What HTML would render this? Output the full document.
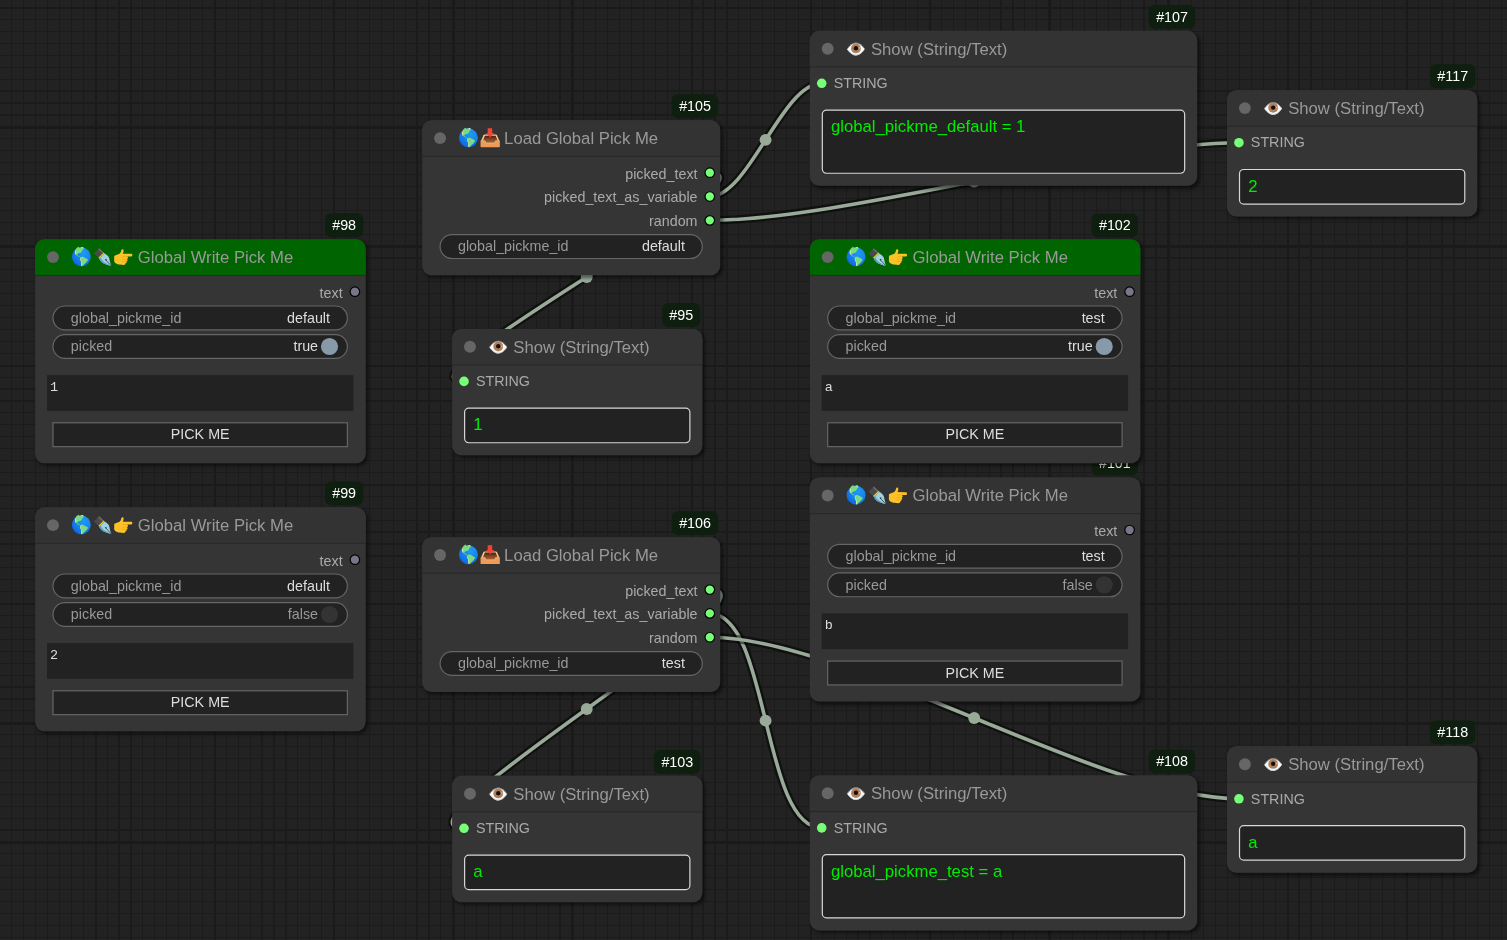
<!DOCTYPE html>
<html lang="en"><head><meta charset="utf-8"><title>ComfyUI</title>
<style>
html,body{margin:0;padding:0;background:#222222;overflow:hidden}
body{width:1507px;height:940px;position:relative;font-family:"Liberation Sans",sans-serif}
#graph{position:absolute;left:0;top:0;width:1300px;height:800px;transform:scale(1.1919);transform-origin:0 0;will-change:transform}
.grid,.links{position:absolute;left:0;top:0;overflow:visible}
.links path{fill:none;stroke-linejoin:round}
.lb{stroke:rgba(0,0,0,.5);stroke-width:7px}
.lc{stroke:#99aa99;stroke-width:3px}
.ld{fill:#99aa99}
.node{position:absolute;left:0;top:0;border-radius:8px;box-shadow:2px 2px 3px rgba(0,0,0,.5)}
.nbg{position:absolute;left:0;top:0;overflow:visible}
.in{position:absolute;left:0;top:0;right:0;bottom:0}
.tdot{position:absolute;left:10px;top:10px;width:10px;height:10px;border-radius:50%;background:#666666}
.tt{position:absolute;left:30px;top:0;height:30px;line-height:30px;font-size:14px;color:#999999;white-space:nowrap}
.e{display:inline-block;width:17.43px;height:17.43px;vertical-align:-3.9px;overflow:visible;position:relative;left:.45px}
.body{position:absolute;left:0;top:30px;right:0;bottom:0}
.badge{position:absolute;right:2px;top:-22px;transform:translate(.3px,.3px);height:20px;line-height:20px;padding:0 6px;border-radius:5px;background:#0f1f0f;color:#fff;font-size:12px;white-space:nowrap}
.slot{position:absolute;left:0;right:0;height:20px;line-height:20px;font-size:12px;color:#aaaaaa;white-space:nowrap}
.slot span{position:absolute;top:0}
.slot.out span{right:19px;top:.7px}
.slot.in span{left:20px;top:.4px}
.ta{position:absolute;left:10px;right:10px;top:84px;height:30px;box-sizing:border-box;background:#222222;color:#dddddd;font-family:"Liberation Mono",monospace;font-size:11.3px;line-height:14px;padding:3.2px 2.5px}
.box{position:absolute;left:10px;right:10px;top:36px;bottom:10px;box-sizing:border-box;border:1px solid #d8d8d8;border-radius:4px;background:#222222;color:#00ec00;font-size:14px;line-height:16px;padding:5.3px 6.8px;white-space:nowrap;overflow:hidden}
.pin{position:absolute;top:5px;overflow:visible}
.slot.out .pin{right:4px}
.slot.in .pin{left:5px}
.wbg{position:absolute;left:0;top:0;overflow:visible}
.w{position:absolute;left:15px;height:20px;font-size:12px;line-height:20px;white-space:nowrap}
.wl{position:absolute;left:15px;top:0;color:#999999}
.wv{position:absolute;right:14.6px;top:0;color:#dddddd}
.wv.tg{right:24.6px}
.wv.off{color:#999999}
.btn{position:absolute;left:15px;height:20px;color:#dddddd;font-size:12px;line-height:20px;text-align:center}
.btn span{position:relative}

</style></head><body>
<svg width="0" height="0" style="position:absolute"><defs>
<radialGradient id="gg" cx="0.62" cy="0.3" r="0.8"><stop offset="0" stop-color="#1f9af2"/><stop offset="0.5" stop-color="#1583ee"/><stop offset="1" stop-color="#0b5fe0"/></radialGradient>
<linearGradient id="gi" x1="0" y1="0" x2="0" y2="1"><stop offset="0" stop-color="#45200f"/><stop offset="0.45" stop-color="#7d4424"/><stop offset="1" stop-color="#b06a3c"/></linearGradient>
<symbol id="e-globe" viewBox="0 0 128 128">
<circle cx="64.5" cy="64.5" r="58.5" fill="url(#gg)"/>
<path d="M49 9C57 6 66 5 73 6c5 2 8 5 7 9-1 4-6 5-8 8-3 5-4 10-8 13-4 4-10 4-15 7-4 2-9 3-10 6 0 3 3 5 5 8 4 3 10 4 14 9-6 0-12-2-16-6-5-3-9-6-11-11-3-5-6-10-6-16 0-6 2-11 5-16 4-6 9-12 19-17z" fill="#79da83"/>
<path d="M30 24c-4 6-6 12-5 18 1 5 3 9 7 12-1-6-1-12 1-17 1-5 1-9-3-13z" fill="#dfe28f"/>
<path d="M66 6c4-1 8 0 11 2-2 3-6 3-9 2-2-1-3-3-2-4z" fill="#f4f8fa"/>
<path d="M59 66c6-3 13-3 19-1 6 3 11 7 17 10 5 2 10 4 10 8-1 6-5 10-9 15-4 5-9 8-13 12-5 4-8 9-13 12-4 0-6-2-6-5 1-6 1-13 0-19-2-6-6-11-7-18 0-5 0-10 2-14z" fill="#79da83"/>
<path d="M59 66c-3 5-3 11-1 17 2 6 6 11 6 18 1 6 0 12 0 18 1 2 2 3 4 3 1-6 2-12 1-18-1-7-5-13-7-19-2-6-4-13-3-19z" fill="#e9e9a6"/>
</symbol>
<symbol id="e-pen" viewBox="0 0 128 128">
<path d="M9 43L42 11l28 27-33 32z" fill="#4a4a4a"/>
<path d="M36 17l6-6 28 27-6 6z" fill="#6b6b6b"/>
<path d="M37 70l33-32 6 6-33 32z" fill="#f6c81e"/>
<path d="M43 76l33-32c10 6 18 12 23 19 6 8 7 18 9 28 2 9 5 19 10 30-12-4-24-6-36-11-10-4-20-8-27-16-6-6-10-12-12-18z" fill="#9fd3e3"/>
<path d="M43 76c2 6 6 12 12 18 7 8 17 12 27 16 12 5 24 7 36 11-14-8-30-14-44-24-10-7-18-15-22-28z" fill="#5f9db3"/>
<path d="M84 85l33 35" stroke="#1f2a30" stroke-width="4.5" fill="none" stroke-linecap="round"/>
<path d="M77 80l12-2-3 11z" fill="#1f2a30"/>
</symbol>
<symbol id="e-hand" viewBox="0 0 128 128">
<path d="M10 64c0-5 3-7 9-9l24-10c7-4 9-12 11-21 2-9 14-8 14 2 0 8-2 14-5 19l50 1c12 0 12 17 0 17H89c8 2 8 14 0 16 6 4 4 13-4 14 4 6 0 12-7 12 2 6-3 9-10 9l-24-2C28 110 10 102 10 90z" fill="#fdc228"/>
<path d="M64 63h26M62 79h26M60 93h24" stroke="#eaa413" stroke-width="3.5" stroke-linecap="round" fill="none"/>
</symbol>
<symbol id="e-inbox" viewBox="0 0 128 128">
<path d="M32 44h70c3 0 5 2 6 4l15 34H10l15-34c1-2 4-4 7-4z" fill="#f6cb8d"/>
<path d="M34 51h66l13 31v15H21V82z" fill="url(#gi)"/>
<path d="M7 82h27l7 14h52l7-14h26v36a4 4 0 0 1-4 4H11a4 4 0 0 1-4-4z" fill="#f09a58"/>
<path d="M9 82h25l7 14h52l7-14h24" fill="none" stroke="#f8cd85" stroke-width="3.5" stroke-linejoin="round"/>
<path d="M51 6h28v29h12L66 62 41 35h10z" fill="#f44336"/>
</symbol>
<symbol id="e-eye" viewBox="0 0 128 128">
<path d="M9 69c19-26 37-39 55-39s36 13 55 38c-19 27-37 40-55 40S28 96 9 69z" fill="#fdfdfd"/>
<path d="M14 74c16 20 33 31 50 31s34-11 50-31" fill="none" stroke="#b9cbd4" stroke-width="5"/>
<circle cx="64" cy="64" r="30.5" fill="#b5835f"/>
<circle cx="64" cy="64" r="22" fill="none" stroke="#a8744f" stroke-width="3"/>
<circle cx="64" cy="63" r="13.5" fill="#111111"/>
<circle cx="86" cy="62" r="4.5" fill="#ecc4ae"/>
<path d="M11 67c18-25 35-36 53-36s35 11 53 35" fill="none" stroke="#7c7c7c" stroke-width="6"/>
</symbol>

</defs></svg>
<div id="graph">
<svg class="grid" width="1266.37" height="790.66" shape-rendering="crispEdges"><path fill="#1b1b1b" d="M-10.62 0h1v790.66h-1zM-0.62 0h1v790.66h-1zM9.38 0h1v790.66h-1zM19.38 0h1v790.66h-1zM29.38 0h1v790.66h-1zM39.38 0h1v790.66h-1zM49.38 0h1v790.66h-1zM59.38 0h1v790.66h-1zM69.38 0h1v790.66h-1zM89.38 0h1v790.66h-1zM99.38 0h1v790.66h-1zM109.38 0h1v790.66h-1zM119.38 0h1v790.66h-1zM129.38 0h1v790.66h-1zM139.38 0h1v790.66h-1zM149.38 0h1v790.66h-1zM159.38 0h1v790.66h-1zM169.38 0h1v790.66h-1zM189.38 0h1v790.66h-1zM199.38 0h1v790.66h-1zM209.38 0h1v790.66h-1zM219.38 0h1v790.66h-1zM229.38 0h1v790.66h-1zM239.38 0h1v790.66h-1zM249.38 0h1v790.66h-1zM259.38 0h1v790.66h-1zM269.38 0h1v790.66h-1zM289.38 0h1v790.66h-1zM299.38 0h1v790.66h-1zM309.38 0h1v790.66h-1zM319.38 0h1v790.66h-1zM329.38 0h1v790.66h-1zM339.38 0h1v790.66h-1zM349.38 0h1v790.66h-1zM359.38 0h1v790.66h-1zM369.38 0h1v790.66h-1zM389.38 0h1v790.66h-1zM399.38 0h1v790.66h-1zM409.38 0h1v790.66h-1zM419.38 0h1v790.66h-1zM429.38 0h1v790.66h-1zM439.38 0h1v790.66h-1zM449.38 0h1v790.66h-1zM459.38 0h1v790.66h-1zM469.38 0h1v790.66h-1zM489.38 0h1v790.66h-1zM499.38 0h1v790.66h-1zM509.38 0h1v790.66h-1zM519.38 0h1v790.66h-1zM529.38 0h1v790.66h-1zM539.38 0h1v790.66h-1zM549.38 0h1v790.66h-1zM559.38 0h1v790.66h-1zM569.38 0h1v790.66h-1zM589.38 0h1v790.66h-1zM599.38 0h1v790.66h-1zM609.38 0h1v790.66h-1zM619.38 0h1v790.66h-1zM629.38 0h1v790.66h-1zM639.38 0h1v790.66h-1zM649.38 0h1v790.66h-1zM659.38 0h1v790.66h-1zM669.38 0h1v790.66h-1zM689.38 0h1v790.66h-1zM699.38 0h1v790.66h-1zM709.38 0h1v790.66h-1zM719.38 0h1v790.66h-1zM729.38 0h1v790.66h-1zM739.38 0h1v790.66h-1zM749.38 0h1v790.66h-1zM759.38 0h1v790.66h-1zM769.38 0h1v790.66h-1zM789.38 0h1v790.66h-1zM799.38 0h1v790.66h-1zM809.38 0h1v790.66h-1zM819.38 0h1v790.66h-1zM829.38 0h1v790.66h-1zM839.38 0h1v790.66h-1zM849.38 0h1v790.66h-1zM859.38 0h1v790.66h-1zM869.38 0h1v790.66h-1zM889.38 0h1v790.66h-1zM899.38 0h1v790.66h-1zM909.38 0h1v790.66h-1zM919.38 0h1v790.66h-1zM929.38 0h1v790.66h-1zM939.38 0h1v790.66h-1zM949.38 0h1v790.66h-1zM959.38 0h1v790.66h-1zM969.38 0h1v790.66h-1zM989.38 0h1v790.66h-1zM999.38 0h1v790.66h-1zM1009.38 0h1v790.66h-1zM1019.38 0h1v790.66h-1zM1029.38 0h1v790.66h-1zM1039.38 0h1v790.66h-1zM1049.38 0h1v790.66h-1zM1059.38 0h1v790.66h-1zM1069.38 0h1v790.66h-1zM1089.38 0h1v790.66h-1zM1099.38 0h1v790.66h-1zM1109.38 0h1v790.66h-1zM1119.38 0h1v790.66h-1zM1129.38 0h1v790.66h-1zM1139.38 0h1v790.66h-1zM1149.38 0h1v790.66h-1zM1159.38 0h1v790.66h-1zM1169.38 0h1v790.66h-1zM1189.38 0h1v790.66h-1zM1199.38 0h1v790.66h-1zM1209.38 0h1v790.66h-1zM1219.38 0h1v790.66h-1zM1229.38 0h1v790.66h-1zM1239.38 0h1v790.66h-1zM1249.38 0h1v790.66h-1zM1259.38 0h1v790.66h-1zM0 -84.09h1266.37v1h-1266.37zM0 -74.09h1266.37v1h-1266.37zM0 -64.09h1266.37v1h-1266.37zM0 -54.09h1266.37v1h-1266.37zM0 -44.09h1266.37v1h-1266.37zM0 -34.09h1266.37v1h-1266.37zM0 -24.09h1266.37v1h-1266.37zM0 -14.09h1266.37v1h-1266.37zM0 -4.09h1266.37v1h-1266.37zM0 15.91h1266.37v1h-1266.37zM0 25.91h1266.37v1h-1266.37zM0 35.91h1266.37v1h-1266.37zM0 45.91h1266.37v1h-1266.37zM0 55.91h1266.37v1h-1266.37zM0 65.91h1266.37v1h-1266.37zM0 75.91h1266.37v1h-1266.37zM0 85.91h1266.37v1h-1266.37zM0 95.91h1266.37v1h-1266.37zM0 115.91h1266.37v1h-1266.37zM0 125.91h1266.37v1h-1266.37zM0 135.91h1266.37v1h-1266.37zM0 145.91h1266.37v1h-1266.37zM0 155.91h1266.37v1h-1266.37zM0 165.91h1266.37v1h-1266.37zM0 175.91h1266.37v1h-1266.37zM0 185.91h1266.37v1h-1266.37zM0 195.91h1266.37v1h-1266.37zM0 215.91h1266.37v1h-1266.37zM0 225.91h1266.37v1h-1266.37zM0 235.91h1266.37v1h-1266.37zM0 245.91h1266.37v1h-1266.37zM0 255.91h1266.37v1h-1266.37zM0 265.91h1266.37v1h-1266.37zM0 275.91h1266.37v1h-1266.37zM0 285.91h1266.37v1h-1266.37zM0 295.91h1266.37v1h-1266.37zM0 315.91h1266.37v1h-1266.37zM0 325.91h1266.37v1h-1266.37zM0 335.91h1266.37v1h-1266.37zM0 345.91h1266.37v1h-1266.37zM0 355.91h1266.37v1h-1266.37zM0 365.91h1266.37v1h-1266.37zM0 375.91h1266.37v1h-1266.37zM0 385.91h1266.37v1h-1266.37zM0 395.91h1266.37v1h-1266.37zM0 415.91h1266.37v1h-1266.37zM0 425.91h1266.37v1h-1266.37zM0 435.91h1266.37v1h-1266.37zM0 445.91h1266.37v1h-1266.37zM0 455.91h1266.37v1h-1266.37zM0 465.91h1266.37v1h-1266.37zM0 475.91h1266.37v1h-1266.37zM0 485.91h1266.37v1h-1266.37zM0 495.91h1266.37v1h-1266.37zM0 515.91h1266.37v1h-1266.37zM0 525.91h1266.37v1h-1266.37zM0 535.91h1266.37v1h-1266.37zM0 545.91h1266.37v1h-1266.37zM0 555.91h1266.37v1h-1266.37zM0 565.91h1266.37v1h-1266.37zM0 575.91h1266.37v1h-1266.37zM0 585.91h1266.37v1h-1266.37zM0 595.91h1266.37v1h-1266.37zM0 615.91h1266.37v1h-1266.37zM0 625.91h1266.37v1h-1266.37zM0 635.91h1266.37v1h-1266.37zM0 645.91h1266.37v1h-1266.37zM0 655.91h1266.37v1h-1266.37zM0 665.91h1266.37v1h-1266.37zM0 675.91h1266.37v1h-1266.37zM0 685.91h1266.37v1h-1266.37zM0 695.91h1266.37v1h-1266.37zM0 715.91h1266.37v1h-1266.37zM0 725.91h1266.37v1h-1266.37zM0 735.91h1266.37v1h-1266.37zM0 745.91h1266.37v1h-1266.37zM0 755.91h1266.37v1h-1266.37zM0 765.91h1266.37v1h-1266.37zM0 775.91h1266.37v1h-1266.37zM0 785.91h1266.37v1h-1266.37z"/><path fill="#1a1a1a" d="M-20.62 0h2v790.66h-2zM79.38 0h2v790.66h-2zM179.38 0h2v790.66h-2zM279.38 0h2v790.66h-2zM379.38 0h2v790.66h-2zM479.38 0h2v790.66h-2zM579.38 0h2v790.66h-2zM679.38 0h2v790.66h-2zM779.38 0h2v790.66h-2zM879.38 0h2v790.66h-2zM979.38 0h2v790.66h-2zM1079.38 0h2v790.66h-2zM1179.38 0h2v790.66h-2zM0 -94.09h1266.37v2h-1266.37zM0 5.91h1266.37v2h-1266.37zM0 105.91h1266.37v2h-1266.37zM0 205.91h1266.37v2h-1266.37zM0 305.91h1266.37v2h-1266.37zM0 405.91h1266.37v2h-1266.37zM0 505.91h1266.37v2h-1266.37zM0 605.91h1266.37v2h-1266.37zM0 705.91h1266.37v2h-1266.37z"/></svg>
<svg class="links" width="1300" height="800">
<path d="M595.22 144.88C662.8 144.88 321.74 319.98 389.31 319.98" class="lb"/>
<path d="M595.22 144.88C662.8 144.88 321.74 319.98 389.31 319.98" class="lc"/>
<circle cx="492.27" cy="232.43" r="5" class="ld"/>
<path d="M595.22 164.88C628.67 164.88 655.97 69.88 689.42 69.88" class="lb"/>
<path d="M595.22 164.88C628.67 164.88 655.97 69.88 689.42 69.88" class="lc"/>
<circle cx="642.32" cy="117.38" r="5" class="ld"/>
<path d="M595.22 184.88C707.47 184.88 927.2 119.71 1039.45 119.71" class="lb"/>
<path d="M595.22 184.88C707.47 184.88 927.2 119.71 1039.45 119.71" class="lc"/>
<circle cx="817.34" cy="152.3" r="5" class="ld"/>
<path d="M595.22 494.66C667.03 494.66 317.5 694.93 389.31 694.93" class="lb"/>
<path d="M595.22 494.66C667.03 494.66 317.5 694.93 389.31 694.93" class="lc"/>
<circle cx="492.27" cy="594.8" r="5" class="ld"/>
<path d="M595.22 514.66C646 514.66 638.65 694.59 689.42 694.59" class="lb"/>
<path d="M595.22 514.66C646 514.66 638.65 694.59 689.42 694.59" class="lc"/>
<circle cx="642.32" cy="604.63" r="5" class="ld"/>
<path d="M595.22 534.66C711.33 534.66 923.34 670.18 1039.45 670.18" class="lb"/>
<path d="M595.22 534.66C711.33 534.66 923.34 670.18 1039.45 670.18" class="lc"/>
<circle cx="817.34" cy="602.42" r="5" class="ld"/>
</svg>
<div class="node write" id="n98" style="transform:translate(29.45px,200.72px);width:277px;height:188px">
<div class="badge">#98</div>
<svg class="nbg" width="277.4" height="188"><path fill="#353535" d="M0 8a8 8 0 0 1 8-8H269.4a8 8 0 0 1 8 8V180a8 8 0 0 1-8 8H8a8 8 0 0 1-8-8z"/><path fill="#006400" d="M0 30V8a8 8 0 0 1 8-8H269.4a8 8 0 0 1 8 8V30z"/><rect x="0" y="29.75" width="277.4" height="1" fill="#000" fill-opacity=".22"/></svg>
<div class="in">
<i class="tdot"></i><span class="tt"><svg class="e"><use href="#e-globe"/></svg><svg class="e"><use href="#e-pen"/></svg><svg class="e"><use href="#e-hand"/></svg> Global Write Pick Me</span>
<div class="body">
<div class="slot out" style="top:4px"><span>text</span><svg class="pin" width="10" height="10"><circle cx="5.3" cy="5" r="4" fill="#777788" stroke="#000" stroke-width="1"/></svg></div>
<div class="w" style="top:26px;width:247px"><svg class="wbg" width="247" height="20"><rect x="0" y="0" width="247" height="20" rx="10" ry="10" fill="#222222" stroke="#666666" stroke-width="1"/></svg><span class="wl">global_pickme_id</span><span class="wv">default</span></div>
<div class="w" style="top:50px;width:247px"><svg class="wbg" width="247" height="20"><rect x="0" y="0" width="247" height="20" rx="10" ry="10" fill="#222222" stroke="#666666" stroke-width="1"/><circle cx="232" cy="10" r="7.2" fill="#8899aa"/></svg><span class="wl">picked</span><span class="wv tg on">true</span></div>
<div class="ta">1</div>
<div class="btn" style="top:124px;width:247px"><svg class="wbg" width="247" height="20"><rect x="0" y="0" width="247" height="20" fill="#222222" stroke="#666666" stroke-width="1"/></svg><span>PICK ME</span></div>
</div></div></div>
<div class="node write" id="n99" style="transform:translate(29.45px,425.58px);width:277px;height:188px">
<div class="badge">#99</div>
<svg class="nbg" width="277.4" height="188"><path fill="#353535" d="M0 8a8 8 0 0 1 8-8H269.4a8 8 0 0 1 8 8V180a8 8 0 0 1-8 8H8a8 8 0 0 1-8-8z"/><path fill="#333333" d="M0 30V8a8 8 0 0 1 8-8H269.4a8 8 0 0 1 8 8V30z"/><rect x="0" y="29.75" width="277.4" height="1" fill="#000" fill-opacity=".22"/></svg>
<div class="in">
<i class="tdot"></i><span class="tt"><svg class="e"><use href="#e-globe"/></svg><svg class="e"><use href="#e-pen"/></svg><svg class="e"><use href="#e-hand"/></svg> Global Write Pick Me</span>
<div class="body">
<div class="slot out" style="top:4px"><span>text</span><svg class="pin" width="10" height="10"><circle cx="5.3" cy="5" r="4" fill="#777788" stroke="#000" stroke-width="1"/></svg></div>
<div class="w" style="top:26px;width:247px"><svg class="wbg" width="247" height="20"><rect x="0" y="0" width="247" height="20" rx="10" ry="10" fill="#222222" stroke="#666666" stroke-width="1"/></svg><span class="wl">global_pickme_id</span><span class="wv">default</span></div>
<div class="w" style="top:50px;width:247px"><svg class="wbg" width="247" height="20"><rect x="0" y="0" width="247" height="20" rx="10" ry="10" fill="#222222" stroke="#666666" stroke-width="1"/><circle cx="232" cy="10" r="7.2" fill="#333333"/></svg><span class="wl">picked</span><span class="wv tg off">false</span></div>
<div class="ta">2</div>
<div class="btn" style="top:124px;width:247px"><svg class="wbg" width="247" height="20"><rect x="0" y="0" width="247" height="20" fill="#222222" stroke="#666666" stroke-width="1"/></svg><span>PICK ME</span></div>
</div></div></div>
<div class="node load" id="n105" style="transform:translate(354.22px,100.88px);width:250px;height:130px">
<div class="badge">#105</div>
<svg class="nbg" width="250" height="130"><path fill="#353535" d="M0 8a8 8 0 0 1 8-8H242a8 8 0 0 1 8 8V122a8 8 0 0 1-8 8H8a8 8 0 0 1-8-8z"/><path fill="#333333" d="M0 30V8a8 8 0 0 1 8-8H242a8 8 0 0 1 8 8V30z"/><rect x="0" y="29.75" width="250" height="1" fill="#000" fill-opacity=".22"/></svg>
<div class="in">
<i class="tdot"></i><span class="tt"><svg class="e"><use href="#e-globe"/></svg><svg class="e"><use href="#e-inbox"/></svg> Load Global Pick Me</span>
<div class="body">
<div class="slot out" style="top:4px"><span>picked_text</span><svg class="pin" width="10" height="10"><circle cx="5.3" cy="5" r="4" fill="#77ff77" stroke="#000" stroke-width="1"/></svg></div>
<div class="slot out" style="top:24px"><span>picked_text_as_variable</span><svg class="pin" width="10" height="10"><circle cx="5.3" cy="5" r="4" fill="#77ff77" stroke="#000" stroke-width="1"/></svg></div>
<div class="slot out" style="top:44px"><span>random</span><svg class="pin" width="10" height="10"><circle cx="5.3" cy="5" r="4" fill="#77ff77" stroke="#000" stroke-width="1"/></svg></div>
<div class="w" style="top:66px;width:220px"><svg class="wbg" width="220" height="20"><rect x="0" y="0" width="220" height="20" rx="10" ry="10" fill="#222222" stroke="#666666" stroke-width="1"/></svg><span class="wl">global_pickme_id</span><span class="wv">default</span></div>
</div></div></div>
<div class="node load" id="n106" style="transform:translate(354.22px,450.66px);width:250px;height:130px">
<div class="badge">#106</div>
<svg class="nbg" width="250" height="130"><path fill="#353535" d="M0 8a8 8 0 0 1 8-8H242a8 8 0 0 1 8 8V122a8 8 0 0 1-8 8H8a8 8 0 0 1-8-8z"/><path fill="#333333" d="M0 30V8a8 8 0 0 1 8-8H242a8 8 0 0 1 8 8V30z"/><rect x="0" y="29.75" width="250" height="1" fill="#000" fill-opacity=".22"/></svg>
<div class="in">
<i class="tdot"></i><span class="tt"><svg class="e"><use href="#e-globe"/></svg><svg class="e"><use href="#e-inbox"/></svg> Load Global Pick Me</span>
<div class="body">
<div class="slot out" style="top:4px"><span>picked_text</span><svg class="pin" width="10" height="10"><circle cx="5.3" cy="5" r="4" fill="#77ff77" stroke="#000" stroke-width="1"/></svg></div>
<div class="slot out" style="top:24px"><span>picked_text_as_variable</span><svg class="pin" width="10" height="10"><circle cx="5.3" cy="5" r="4" fill="#77ff77" stroke="#000" stroke-width="1"/></svg></div>
<div class="slot out" style="top:44px"><span>random</span><svg class="pin" width="10" height="10"><circle cx="5.3" cy="5" r="4" fill="#77ff77" stroke="#000" stroke-width="1"/></svg></div>
<div class="w" style="top:66px;width:220px"><svg class="wbg" width="220" height="20"><rect x="0" y="0" width="220" height="20" rx="10" ry="10" fill="#222222" stroke="#666666" stroke-width="1"/></svg><span class="wl">global_pickme_id</span><span class="wv">test</span></div>
</div></div></div>
<div class="node show" id="n95" style="transform:translate(379.31px,275.98px);width:210px;height:106px">
<div class="badge">#95</div>
<svg class="nbg" width="210" height="106"><path fill="#353535" d="M0 8a8 8 0 0 1 8-8H202a8 8 0 0 1 8 8V98a8 8 0 0 1-8 8H8a8 8 0 0 1-8-8z"/><path fill="#333333" d="M0 30V8a8 8 0 0 1 8-8H202a8 8 0 0 1 8 8V30z"/><rect x="0" y="29.75" width="210" height="1" fill="#000" fill-opacity=".22"/></svg>
<div class="in">
<i class="tdot"></i><span class="tt"><svg class="e"><use href="#e-eye"/></svg> Show (String/Text)</span>
<div class="body">
<div class="slot in" style="top:4px"><svg class="pin" width="10" height="10"><circle cx="5" cy="5" r="4" fill="#77ff77"/></svg><span>STRING</span></div>
<div class="box">1</div>
</div></div></div>
<div class="node show" id="n103" style="transform:translate(379.31px,650.93px);width:210px;height:106px">
<div class="badge">#103</div>
<svg class="nbg" width="210" height="106"><path fill="#353535" d="M0 8a8 8 0 0 1 8-8H202a8 8 0 0 1 8 8V98a8 8 0 0 1-8 8H8a8 8 0 0 1-8-8z"/><path fill="#333333" d="M0 30V8a8 8 0 0 1 8-8H202a8 8 0 0 1 8 8V30z"/><rect x="0" y="29.75" width="210" height="1" fill="#000" fill-opacity=".22"/></svg>
<div class="in">
<i class="tdot"></i><span class="tt"><svg class="e"><use href="#e-eye"/></svg> Show (String/Text)</span>
<div class="body">
<div class="slot in" style="top:4px"><svg class="pin" width="10" height="10"><circle cx="5" cy="5" r="4" fill="#77ff77"/></svg><span>STRING</span></div>
<div class="box">a</div>
</div></div></div>
<div class="node show" id="n107" style="transform:translate(679.42px,25.88px);width:325px;height:130px">
<div class="badge">#107</div>
<svg class="nbg" width="325" height="130"><path fill="#353535" d="M0 8a8 8 0 0 1 8-8H317a8 8 0 0 1 8 8V122a8 8 0 0 1-8 8H8a8 8 0 0 1-8-8z"/><path fill="#333333" d="M0 30V8a8 8 0 0 1 8-8H317a8 8 0 0 1 8 8V30z"/><rect x="0" y="29.75" width="325" height="1" fill="#000" fill-opacity=".22"/></svg>
<div class="in">
<i class="tdot"></i><span class="tt"><svg class="e"><use href="#e-eye"/></svg> Show (String/Text)</span>
<div class="body">
<div class="slot in" style="top:4px"><svg class="pin" width="10" height="10"><circle cx="5" cy="5" r="4" fill="#77ff77"/></svg><span>STRING</span></div>
<div class="box">global_pickme_default = 1</div>
</div></div></div>
<div class="node show" id="n108" style="transform:translate(679.42px,650.59px);width:325px;height:130px">
<div class="badge">#108</div>
<svg class="nbg" width="325" height="130"><path fill="#353535" d="M0 8a8 8 0 0 1 8-8H317a8 8 0 0 1 8 8V122a8 8 0 0 1-8 8H8a8 8 0 0 1-8-8z"/><path fill="#333333" d="M0 30V8a8 8 0 0 1 8-8H317a8 8 0 0 1 8 8V30z"/><rect x="0" y="29.75" width="325" height="1" fill="#000" fill-opacity=".22"/></svg>
<div class="in">
<i class="tdot"></i><span class="tt"><svg class="e"><use href="#e-eye"/></svg> Show (String/Text)</span>
<div class="body">
<div class="slot in" style="top:4px"><svg class="pin" width="10" height="10"><circle cx="5" cy="5" r="4" fill="#77ff77"/></svg><span>STRING</span></div>
<div class="box">global_pickme_test = a</div>
</div></div></div>
<div class="node show" id="n117" style="transform:translate(1029.45px,75.71px);width:210px;height:106px">
<div class="badge">#117</div>
<svg class="nbg" width="210" height="106"><path fill="#353535" d="M0 8a8 8 0 0 1 8-8H202a8 8 0 0 1 8 8V98a8 8 0 0 1-8 8H8a8 8 0 0 1-8-8z"/><path fill="#333333" d="M0 30V8a8 8 0 0 1 8-8H202a8 8 0 0 1 8 8V30z"/><rect x="0" y="29.75" width="210" height="1" fill="#000" fill-opacity=".22"/></svg>
<div class="in">
<i class="tdot"></i><span class="tt"><svg class="e"><use href="#e-eye"/></svg> Show (String/Text)</span>
<div class="body">
<div class="slot in" style="top:4px"><svg class="pin" width="10" height="10"><circle cx="5" cy="5" r="4" fill="#77ff77"/></svg><span>STRING</span></div>
<div class="box">2</div>
</div></div></div>
<div class="node show" id="n118" style="transform:translate(1029.45px,626.18px);width:210px;height:106px">
<div class="badge">#118</div>
<svg class="nbg" width="210" height="106"><path fill="#353535" d="M0 8a8 8 0 0 1 8-8H202a8 8 0 0 1 8 8V98a8 8 0 0 1-8 8H8a8 8 0 0 1-8-8z"/><path fill="#333333" d="M0 30V8a8 8 0 0 1 8-8H202a8 8 0 0 1 8 8V30z"/><rect x="0" y="29.75" width="210" height="1" fill="#000" fill-opacity=".22"/></svg>
<div class="in">
<i class="tdot"></i><span class="tt"><svg class="e"><use href="#e-eye"/></svg> Show (String/Text)</span>
<div class="body">
<div class="slot in" style="top:4px"><svg class="pin" width="10" height="10"><circle cx="5" cy="5" r="4" fill="#77ff77"/></svg><span>STRING</span></div>
<div class="box">a</div>
</div></div></div>
<div class="node write" id="n101" style="transform:translate(679.42px,400.66px);width:277px;height:188px">
<div class="badge">#101</div>
<svg class="nbg" width="277.4" height="188"><path fill="#353535" d="M0 8a8 8 0 0 1 8-8H269.4a8 8 0 0 1 8 8V180a8 8 0 0 1-8 8H8a8 8 0 0 1-8-8z"/><path fill="#333333" d="M0 30V8a8 8 0 0 1 8-8H269.4a8 8 0 0 1 8 8V30z"/><rect x="0" y="29.75" width="277.4" height="1" fill="#000" fill-opacity=".22"/></svg>
<div class="in">
<i class="tdot"></i><span class="tt"><svg class="e"><use href="#e-globe"/></svg><svg class="e"><use href="#e-pen"/></svg><svg class="e"><use href="#e-hand"/></svg> Global Write Pick Me</span>
<div class="body">
<div class="slot out" style="top:4px"><span>text</span><svg class="pin" width="10" height="10"><circle cx="5.3" cy="5" r="4" fill="#777788" stroke="#000" stroke-width="1"/></svg></div>
<div class="w" style="top:26px;width:247px"><svg class="wbg" width="247" height="20"><rect x="0" y="0" width="247" height="20" rx="10" ry="10" fill="#222222" stroke="#666666" stroke-width="1"/></svg><span class="wl">global_pickme_id</span><span class="wv">test</span></div>
<div class="w" style="top:50px;width:247px"><svg class="wbg" width="247" height="20"><rect x="0" y="0" width="247" height="20" rx="10" ry="10" fill="#222222" stroke="#666666" stroke-width="1"/><circle cx="232" cy="10" r="7.2" fill="#333333"/></svg><span class="wl">picked</span><span class="wv tg off">false</span></div>
<div class="ta">b</div>
<div class="btn" style="top:124px;width:247px"><svg class="wbg" width="247" height="20"><rect x="0" y="0" width="247" height="20" fill="#222222" stroke="#666666" stroke-width="1"/></svg><span>PICK ME</span></div>
</div></div></div>
<div class="node write" id="n102" style="transform:translate(679.42px,200.72px);width:277px;height:188px">
<div class="badge">#102</div>
<svg class="nbg" width="277.4" height="188"><path fill="#353535" d="M0 8a8 8 0 0 1 8-8H269.4a8 8 0 0 1 8 8V180a8 8 0 0 1-8 8H8a8 8 0 0 1-8-8z"/><path fill="#006400" d="M0 30V8a8 8 0 0 1 8-8H269.4a8 8 0 0 1 8 8V30z"/><rect x="0" y="29.75" width="277.4" height="1" fill="#000" fill-opacity=".22"/></svg>
<div class="in">
<i class="tdot"></i><span class="tt"><svg class="e"><use href="#e-globe"/></svg><svg class="e"><use href="#e-pen"/></svg><svg class="e"><use href="#e-hand"/></svg> Global Write Pick Me</span>
<div class="body">
<div class="slot out" style="top:4px"><span>text</span><svg class="pin" width="10" height="10"><circle cx="5.3" cy="5" r="4" fill="#777788" stroke="#000" stroke-width="1"/></svg></div>
<div class="w" style="top:26px;width:247px"><svg class="wbg" width="247" height="20"><rect x="0" y="0" width="247" height="20" rx="10" ry="10" fill="#222222" stroke="#666666" stroke-width="1"/></svg><span class="wl">global_pickme_id</span><span class="wv">test</span></div>
<div class="w" style="top:50px;width:247px"><svg class="wbg" width="247" height="20"><rect x="0" y="0" width="247" height="20" rx="10" ry="10" fill="#222222" stroke="#666666" stroke-width="1"/><circle cx="232" cy="10" r="7.2" fill="#8899aa"/></svg><span class="wl">picked</span><span class="wv tg on">true</span></div>
<div class="ta">a</div>
<div class="btn" style="top:124px;width:247px"><svg class="wbg" width="247" height="20"><rect x="0" y="0" width="247" height="20" fill="#222222" stroke="#666666" stroke-width="1"/></svg><span>PICK ME</span></div>
</div></div></div>
</div>
</body></html>
